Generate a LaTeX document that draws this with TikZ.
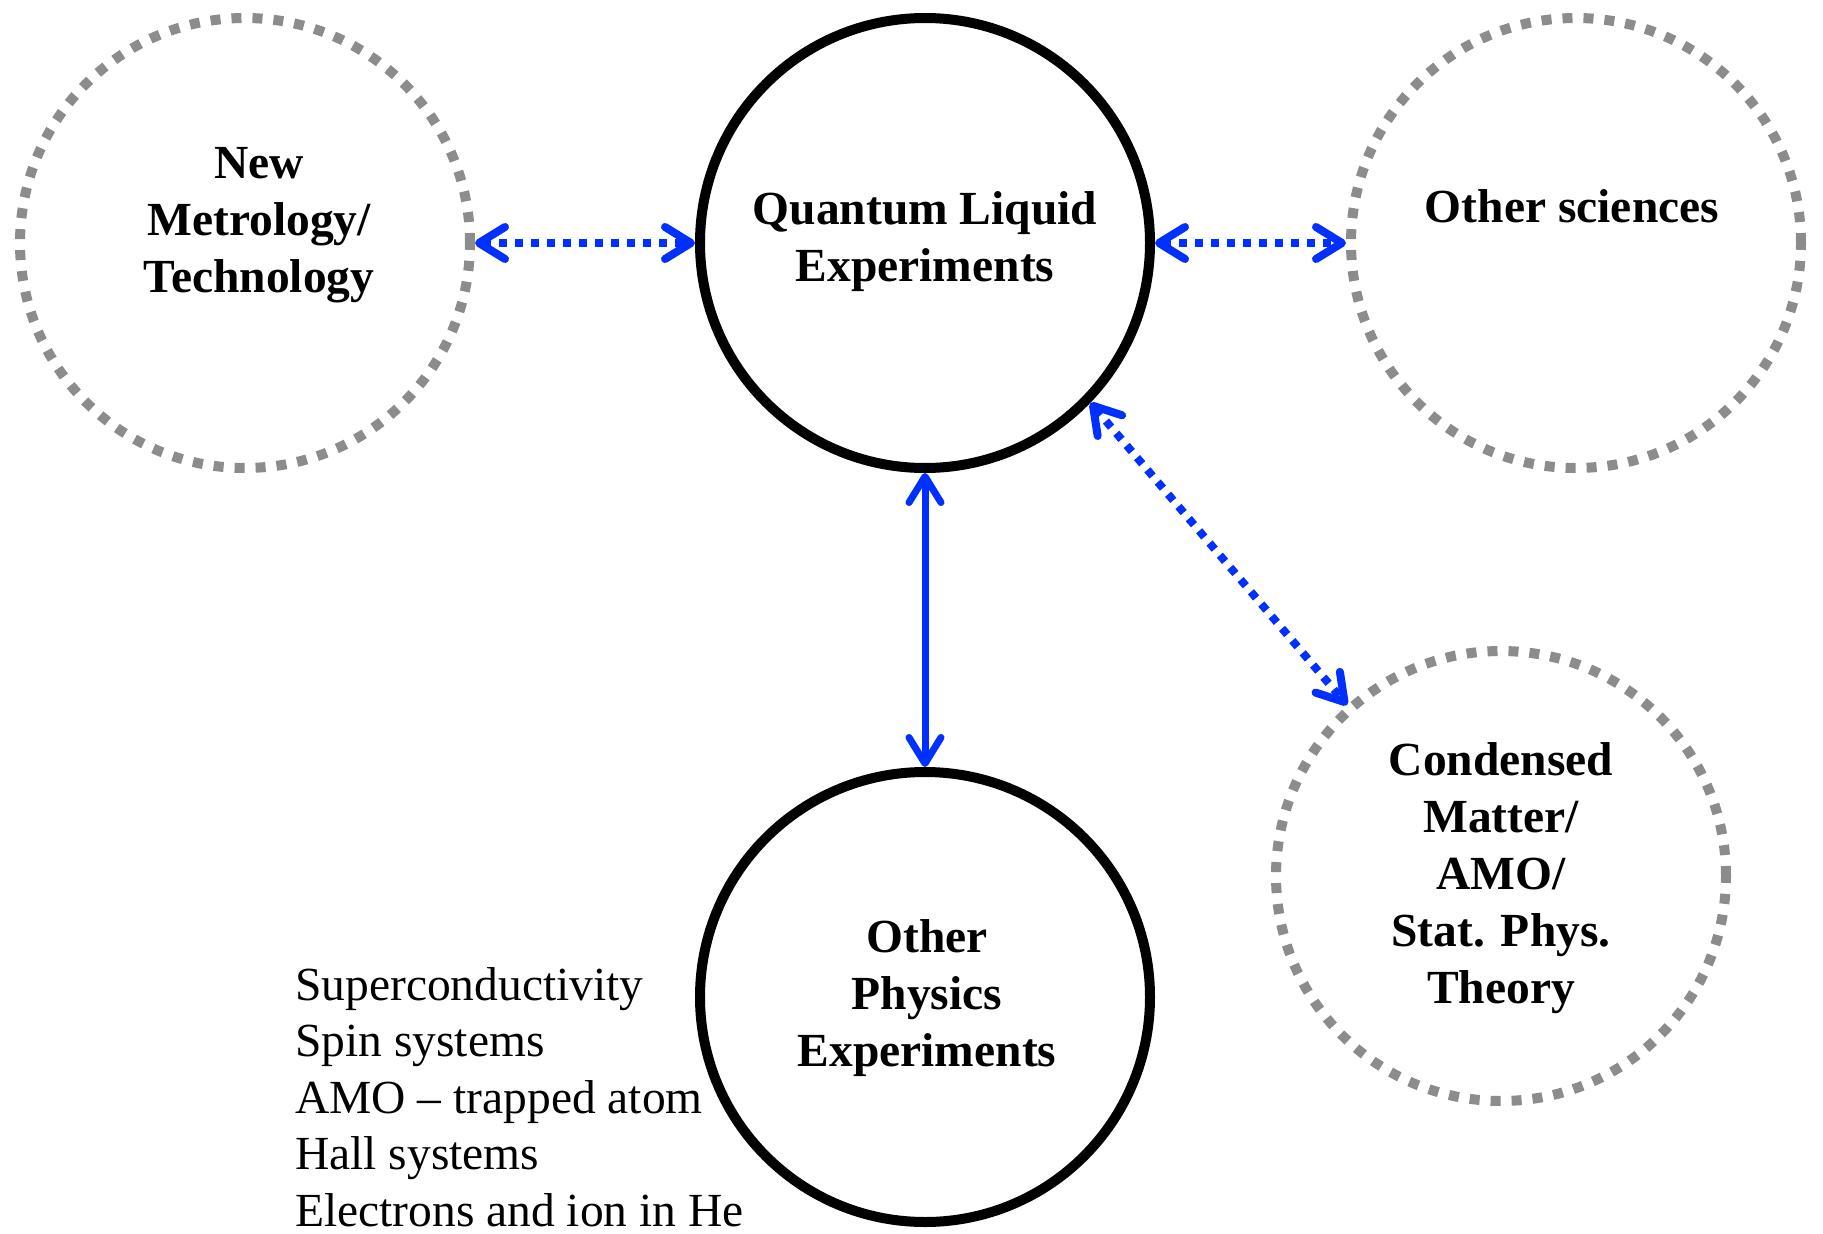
\documentclass[tikz,border=0pt]{standalone}
\usepackage{fontspec}
\setmainfont{Liberation Serif}
\usetikzlibrary{arrows.meta}
\definecolor{dgray}{RGB}{140,140,140}
\definecolor{arrblue}{RGB}{0,48,255}
\tikzset{
  gcirc/.style={circle, draw=dgray, line width=10pt, dash pattern=on 10pt off 11pt, minimum size=450pt, inner sep=0pt},
  bcirc/.style={circle, draw=black, line width=10pt, minimum size=450pt, inner sep=0pt},
  lbl/.style={inner sep=0pt, anchor=base, font=\bfseries\fontsize{47.5}{57}\selectfont},
  listlbl/.style={inner sep=0pt, anchor=base west, font=\fontsize{47.5}{56.5}\selectfont},
  tipb/.tip={Straight Barb[length=26pt, width=32pt, round]},
  bluedot/.style={draw=arrblue, line width=8pt, dash pattern=on 8pt off 8pt, tipb-tipb, shorten <=0pt, shorten >=0pt},
  bluesolid/.style={draw=arrblue, line width=7pt, tipb-tipb}
}
\begin{document}
\begin{tikzpicture}[x=1pt, y=-1pt]
\useasboundingbox (0,0) rectangle (1823,1234);
% circles
\node[gcirc] (metro) at (245,243) {};
\node[bcirc] (qle) at (925,243) {};
\node[gcirc] (other) at (1576,243) {};
\node[bcirc] (ope) at (925,997) {};
\node[gcirc] (cond) at (1501,876) {};
% labels
\node[lbl] (metrot) at (259,178) {\begin{tabular}[t]{@{}c@{}}New\\Metrology/\\Technology\end{tabular}};
\node[lbl] (qlet) at (925,224) {\begin{tabular}[t]{@{}c@{}}Quantum Liquid\\Experiments\end{tabular}};
\node[lbl] (othert) at (1572,222) {Other sciences};
\node[lbl] (opet) at (927,952) {\begin{tabular}[t]{@{}c@{}}Other\\Physics\\Experiments\end{tabular}};
\node[lbl] (condt) at (1501,775) {\begin{tabular}[t]{@{}c@{}}Condensed\\Matter/\\AMO/\\Stat. Phys.\\Theory\end{tabular}};
\node[listlbl] (list) at (295,1000) {\begin{tabular}[t]{@{}l@{}}Superconductivity\\Spin systems\\AMO – trapped atom\\Hall systems\\Electrons and ion in He\end{tabular}};
% connectors
\draw[bluedot] (metro.east) -- (qle.west);
\draw[bluedot] (qle.east) -- (other.west);
\draw[bluesolid] (qle.south) -- (ope.north);
\draw[bluedot] (qle.-44.6) -- (cond.132.3);
\end{tikzpicture}
\end{document}
